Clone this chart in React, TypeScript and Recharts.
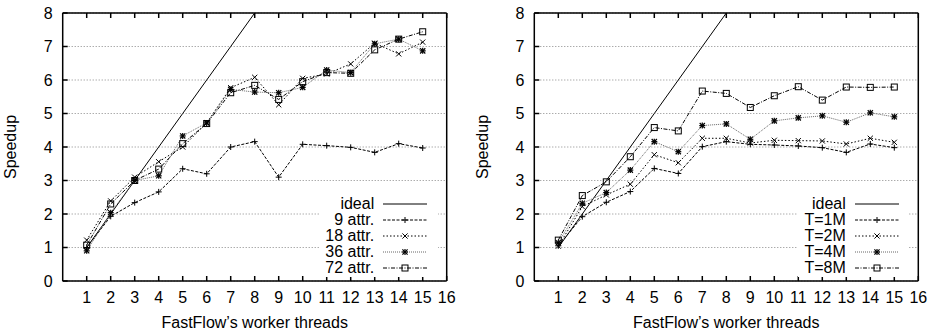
import React from "react";
import { CartesianGrid, Label, Line, LineChart, XAxis, YAxis } from "recharts";

// threads on the x axis
const THREADS = [1, 2, 3, 4, 5, 6, 7, 8, 9, 10, 11, 12, 13, 14, 15];
const X_TICKS = [1, 2, 3, 4, 5, 6, 7, 8, 9, 10, 11, 12, 13, 14, 15, 16];
const Y_TICKS = [0, 1, 2, 3, 4, 5, 6, 7, 8];
const IDEAL = [1, 2, 3, 4, 5, 6, 7, 8];

// left panel
const ATTR_NAMES = ["9 attr.", "18 attr.", "36 attr.", "72 attr."];
const ATTR_9 = [1.0, 1.93, 2.34, 2.66, 3.35, 3.2, 4.0, 4.16, 3.1, 4.08, 4.04, 3.99, 3.84, 4.1, 3.97];
const ATTR_18 = [1.22, 2.39, 3.1, 3.56, 4.0, 4.72, 5.77, 6.08, 5.26, 6.05, 6.18, 6.48, 7.1, 6.78, 7.13];
const ATTR_36 = [0.9, 2.04, 3.0, 3.14, 4.33, 4.72, 5.72, 5.64, 5.62, 5.78, 6.3, 6.22, 7.08, 7.22, 6.87];
const ATTR_72 = [1.07, 2.3, 3.0, 3.34, 4.1, 4.7, 5.62, 5.84, 5.42, 5.95, 6.22, 6.2, 6.9, 7.22, 7.44];

// right panel
const T_NAMES = ["T=1M", "T=2M", "T=4M", "T=8M"];
const T_1M = [1.05, 1.92, 2.35, 2.67, 3.36, 3.21, 4.01, 4.16, 4.08, 4.06, 4.03, 3.98, 3.84, 4.09, 3.98];
const T_2M = [1.04, 2.22, 2.57, 2.89, 3.77, 3.53, 4.26, 4.26, 4.12, 4.2, 4.19, 4.18, 4.09, 4.26, 4.14];
const T_4M = [1.14, 2.32, 2.64, 3.31, 4.16, 3.86, 4.64, 4.69, 4.23, 4.78, 4.87, 4.93, 4.74, 5.02, 4.9];
const T_8M = [1.22, 2.55, 2.96, 3.71, 4.58, 4.48, 5.67, 5.6, 5.18, 5.53, 5.8, 5.4, 5.79, 5.78, 5.79];

const FONT = '"Liberation Sans", Arial, Helvetica, sans-serif';
const W = 464;
const H = 335;
const STYLES = [
  { dash: "3 1.5", color: "#000", mark: "plus" },
  { dash: "1.5 2", color: "#000", mark: "cross" },
  { dash: "1 1", color: "#666", mark: "star" },
  { dash: "4 1.5 1 1.5", color: "#000", mark: "box" },
] as const;

type MarkKind = "plus" | "cross" | "star" | "box";

function Mark({ kind, x, y }: { kind: MarkKind; x: number; y: number }) {
  const s = 2.6;
  if (kind === "plus")
    return (
      <g stroke="#000" strokeWidth={1}>
        <line x1={x - 3} y1={y} x2={x + 3} y2={y} />
        <line x1={x} y1={y - 3} x2={x} y2={y + 3} />
      </g>
    );
  if (kind === "cross")
    return (
      <g stroke="#000" strokeWidth={1}>
        <line x1={x - s} y1={y - s} x2={x + s} y2={y + s} />
        <line x1={x - s} y1={y + s} x2={x + s} y2={y - s} />
      </g>
    );
  if (kind === "star")
    return (
      <g stroke="#000" strokeWidth={1.2}>
        <line x1={x - s} y1={y - s} x2={x + s} y2={y + s} />
        <line x1={x - s} y1={y + s} x2={x + s} y2={y - s} />
        <line x1={x - 3} y1={y} x2={x + 3} y2={y} />
        <line x1={x} y1={y - 3} x2={x} y2={y + 3} />
      </g>
    );
  return <rect x={x - 3} y={y - 3} width={6} height={6} fill="none" stroke="#000" strokeWidth={1} />;
}

function LegendBox({ names, plotRight }: { names: string[]; plotRight: number }) {
  const rows = [{ name: "ideal", dash: undefined as string | undefined, color: "#000", mark: null as MarkKind | null }].concat(
    names.map((n, i) => ({ name: n, dash: STYLES[i].dash, color: STYLES[i].color, mark: STYLES[i].mark }))
  );
  return (
    <div
      style={{
        position: "absolute",
        top: 196,
        right: W - plotRight + 9,
        background: "#fff",
        padding: "0 10.5px 1px 6px",
        fontSize: 16,
        lineHeight: "16px",
      }}
    >
      {rows.map((r) => (
        <div key={r.name} style={{ display: "flex", justifyContent: "flex-end", alignItems: "center", height: 16 }}>
          <span>{r.name}</span>
          <svg width={44} height={10} style={{ marginLeft: 9 }}>
            <line x1={0} y1={5} x2={44} y2={5} stroke={r.color} strokeWidth={1} strokeDasharray={r.dash} />
            {r.mark && <Mark kind={r.mark} x={22} y={5} />}
          </svg>
        </div>
      ))}
    </div>
  );
}

function SpeedupPanel({
  names,
  series,
  plotLeft,
}: {
  names: string[];
  series: number[][];
  plotLeft: number;
}) {
  const plotRight = plotLeft + 384;
  const rows = THREADS.map((t, i) => {
    const row: Record<string, number | null> = { x: t, ideal: i < IDEAL.length ? IDEAL[i] : null };
    series.forEach((s, k) => (row["s" + k] = s[i]));
    return row;
  });
  const tick = { fill: "#000", fontSize: 16 };
  return (
    <div style={{ position: "relative", width: W, height: H }}>
      <LineChart
        width={W}
        height={H}
        data={rows}
        margin={{ top: 12, right: W - plotRight - 1, bottom: 0, left: plotLeft - 62 }}
      >
        <CartesianGrid xAxisId="b" yAxisId="l" vertical={false} stroke="#888" strokeDasharray="1 2" />
        <XAxis
          xAxisId="b"
          type="number"
          dataKey="x"
          domain={[0, 16]}
          ticks={X_TICKS}
          interval={0}
          height={54}
          tickSize={-5}
          tickMargin={16}
          stroke="#000"
          strokeWidth={1.5}
          tick={tick}
        >
          <Label value="FastFlow’s worker threads" position="insideBottom" offset={7} fill="#000" fontSize={16} />
        </XAxis>
        <XAxis
          xAxisId="t"
          orientation="top"
          type="number"
          dataKey="x"
          domain={[0, 16]}
          ticks={X_TICKS}
          interval={0}
          height={1}
          tickSize={-5}
          tickFormatter={() => ""}
          stroke="#000"
          strokeWidth={1.5}
        />
        <YAxis
          yAxisId="l"
          type="number"
          domain={[0, 8]}
          ticks={Y_TICKS}
          interval={0}
          width={62}
          tickSize={-5}
          tickMargin={15}
          stroke="#000"
          strokeWidth={1.5}
          tick={tick}
        >
          <Label
            content={(p: any) => {
              const vb = p.viewBox || { x: 0, y: 0, width: 62, height: 0 };
              const cx = vb.x + vb.width - 52;
              const cy = vb.y + vb.height / 2;
              return (
                <text
                  x={cx}
                  y={cy}
                  transform={`rotate(-90 ${cx} ${cy})`}
                  textAnchor="middle"
                  dominantBaseline="central"
                  fontSize={16}
                  fill="#000"
                >
                  Speedup
                </text>
              );
            }}
          />
        </YAxis>
        <YAxis
          yAxisId="r"
          orientation="right"
          type="number"
          domain={[0, 8]}
          ticks={Y_TICKS}
          interval={0}
          width={1}
          tickSize={-5}
          tickFormatter={() => ""}
          stroke="#000"
          strokeWidth={1.5}
        />
        <Line
          xAxisId="b"
          yAxisId="l"
          dataKey="ideal"
          stroke="#000"
          strokeWidth={1}
          dot={false}
          isAnimationActive={false}
        />
        {series.map((_, k) => (
          <Line
            key={k}
            xAxisId="b"
            yAxisId="l"
            dataKey={"s" + k}
            stroke={STYLES[k].color}
            strokeWidth={1}
            strokeDasharray={STYLES[k].dash}
            isAnimationActive={false}
            dot={(p: any) =>
              p.cy == null ? <g key={p.index} /> : <Mark key={p.index} kind={STYLES[k].mark} x={p.cx} y={p.cy} />
            }
          />
        ))}
      </LineChart>
      <LegendBox names={names} plotRight={plotRight} />
    </div>
  );
}

export default function App() {
  return (
    <div
      style={{
        position: "absolute",
        left: 0,
        top: 0,
        width: 928,
        height: 335,
        background: "#fff",
        fontFamily: FONT,
        display: "flex",
        overflow: "hidden",
      }}
    >
      <SpeedupPanel names={ATTR_NAMES} series={[ATTR_9, ATTR_18, ATTR_36, ATTR_72]} plotLeft={62.7} />
      <SpeedupPanel names={T_NAMES} series={[T_1M, T_2M, T_4M, T_8M]} plotLeft={70.3} />
    </div>
  );
}
